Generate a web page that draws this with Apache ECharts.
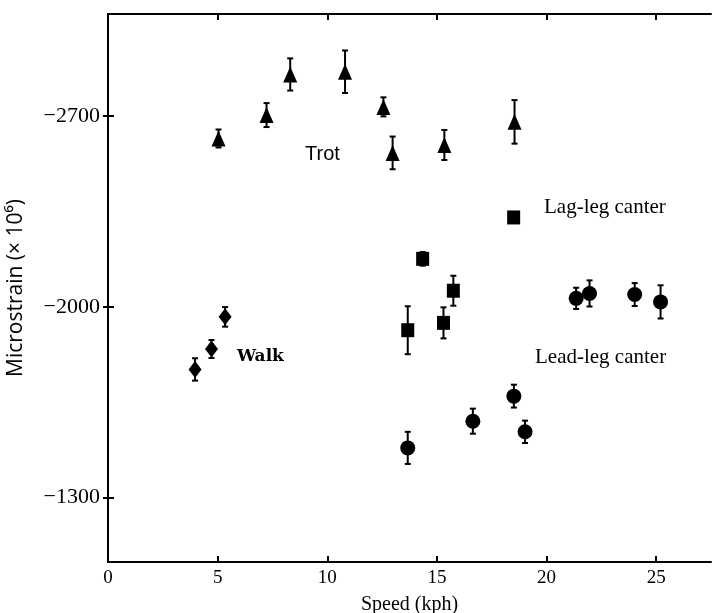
<!DOCTYPE html>
<html>
<head>
    <meta charset="utf-8"/>
    <title>Microstrain vs speed</title>
    <script type="text/javascript" src="https://cdn.jsdelivr.net/npm/echarts@6/dist/echarts.min.js"></script>
    <style>
        html, body {
            margin: 0;
            padding: 0;
            background: #fff;
        }

        #chart {
            width: 712px;
            height: 613px;
        }
    </style>
</head>
<body>
<div id="chart"></div>
<script type="text/javascript">
    // values: speed (kph), strain (microstrain), half error bar
    let walkSpeed = [3.97, 4.72, 5.34];
    let walkStrain = [-1770, -1845, -1963];
    let walkErr = [41, 33, 36];

    let trotSpeed = [5.04, 7.23, 8.31, 10.81, 12.56, 12.98, 15.34, 18.54];
    let trotStrain = [-2618, -2704, -2853, -2863, -2734, -2565, -2594, -2679];
    let trotErr = [33, 44, 59, 78, 35, 60, 55, 80];

    let lagSpeed = [13.67, 14.35, 15.3, 15.75, 18.5];
    let lagStrain = [-1914, -2176, -1941, -2059, -2328];
    let lagErr = [88, 25, 57, 55, 18];

    let leadSpeed = [13.67, 16.64, 18.51, 19.02, 21.35, 21.96, 24.02, 25.2];
    let leadStrain = [-1482, -1580, -1672, -1541, -2031, -2049, -2045, -2018];
    let leadErr = [59, 46, 42, 41, 39, 48, 42, 61];

    let xTicks = [0, 5, 10, 15, 20, 25];
    let yTicks = [-2700, -2000, -1300];

    function pts(xs, ys, es) {
        return xs.map(function (x, i) {
            return [x, ys[i], es[i]];
        });
    }

    function errorBar(params, api) {
        let x = api.value(0);
        let y = api.value(1);
        let e = api.value(2);
        let lo = api.coord([x, y - e]);
        let hi = api.coord([x, y + e]);
        let w = 3;
        let style = {stroke: '#000', lineWidth: 2};
        return {
            type: 'group',
            children: [
                {type: 'line', shape: {x1: lo[0], y1: lo[1], x2: hi[0], y2: hi[1]}, style: style},
                {type: 'line', shape: {x1: lo[0] - w, y1: lo[1], x2: lo[0] + w, y2: lo[1]}, style: style},
                {type: 'line', shape: {x1: hi[0] - w, y1: hi[1], x2: hi[0] + w, y2: hi[1]}, style: style}
            ]
        };
    }

    let groups = [
        {name: 'Walk', data: pts(walkSpeed, walkStrain, walkErr), symbol: 'diamond', size: [13, 17]},
        {name: 'Trot', data: pts(trotSpeed, trotStrain, trotErr), symbol: 'triangle', size: [14, 16]},
        {name: 'Lag-leg canter', data: pts(lagSpeed, lagStrain, lagErr), symbol: 'rect', size: [13, 14]},
        {name: 'Lead-leg canter', data: pts(leadSpeed, leadStrain, leadErr), symbol: 'circle', size: 15}
    ];

    let series = [];
    groups.forEach(function (g) {
        series.push({
            type: 'custom',
            name: g.name + ' err',
            renderItem: errorBar,
            data: g.data,
            encode: {x: 0, y: 1},
            z: 2,
            silent: true
        });
        series.push({
            type: 'scatter',
            name: g.name,
            data: g.data,
            symbol: g.symbol,
            symbolSize: g.size,
            itemStyle: {color: '#000', opacity: 1},
            z: 3
        });
    });

    let lineStyle = {color: '#000', width: 2};
    let serif = '"Liberation Serif", "DejaVu Serif", serif';

    let chart = echarts.init(document.getElementById('chart'));
    chart.setOption({
        backgroundColor: '#fff',
        animation: false,
        grid: {left: 108, top: 14, right: 1, bottom: 51, outerBoundsMode: 'none'},
        xAxis: [
            {
                type: 'value',
                min: 0,
                max: 27.5,
                name: 'Speed (kph)',
                nameLocation: 'middle',
                nameGap: 33,
                nameTextStyle: {fontFamily: serif, fontSize: 20, color: '#000'},
                axisLine: {lineStyle: lineStyle},
                axisTick: {inside: true, length: 6, lineStyle: lineStyle, customValues: xTicks},
                axisLabel: {customValues: xTicks, fontFamily: serif, fontSize: 19, color: '#000', margin: 7},
                splitLine: {show: false}
            },
            {
                type: 'value',
                position: 'top',
                min: 0,
                max: 27.5,
                axisLine: {lineStyle: lineStyle},
                axisTick: {inside: true, length: 6, lineStyle: lineStyle, customValues: xTicks},
                axisLabel: {show: false},
                splitLine: {show: false}
            }
        ],
        yAxis: [
            {
                type: 'value',
                inverse: true,
                min: -3075,
                max: -1063,
                name: 'Microstrain (× 10⁶)',
                nameLocation: 'middle',
                nameGap: 81,
                nameRotate: 90,
                nameTextStyle: {fontFamily: '"Open Sans", sans-serif', fontSize: 21, color: '#000'},
                axisLine: {lineStyle: lineStyle},
                axisTick: {inside: true, length: 6, lineStyle: lineStyle, customValues: yTicks},
                axisLabel: {
                    customValues: yTicks,
                    fontFamily: serif,
                    fontSize: 22,
                    color: '#000',
                    margin: 8,
                    formatter: function (v) {
                        return String(v).replace('-', '\u2212');
                    }
                },
                splitLine: {show: false}
            },
            {
                type: 'value',
                position: 'right',
                inverse: true,
                min: -3075,
                max: -1063,
                axisLine: {show: false},
                axisTick: {inside: true, length: 5, lineStyle: lineStyle, customValues: yTicks},
                axisLabel: {show: false},
                splitLine: {show: false}
            }
        ],
        graphic: [
            {type: 'text', x: 305, y: 154, style: {text: 'Trot', font: '20px "Liberation Sans", sans-serif', fill: '#000', verticalAlign: 'middle'}},
            {type: 'text', x: 237, y: 357, style: {text: 'Walk', font: 'bold 17px "DejaVu Serif", serif', fill: '#000', verticalAlign: 'middle'}},
            {type: 'text', x: 544, y: 207, style: {text: 'Lag-leg canter', font: '21px "Liberation Serif", serif', fill: '#000', verticalAlign: 'middle'}},
            {type: 'text', x: 535, y: 357, style: {text: 'Lead-leg canter', font: '21px "Liberation Serif", serif', fill: '#000', verticalAlign: 'middle'}}
        ],
        series: series
    });
</script>
</body>
</html>
